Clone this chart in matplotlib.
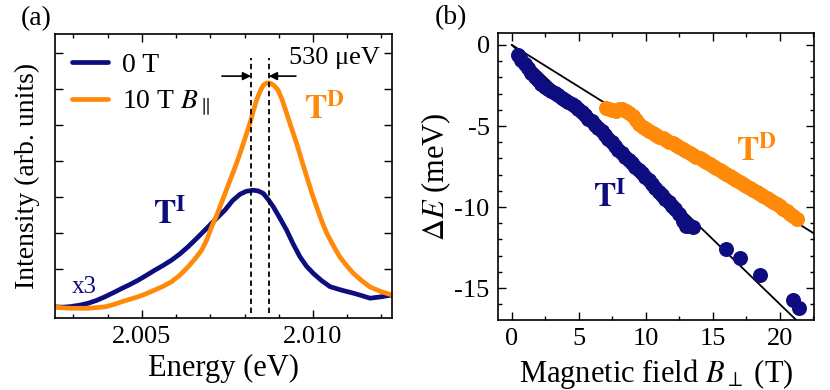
import matplotlib
matplotlib.use("Agg")
import matplotlib.pyplot as plt
from matplotlib.ticker import MultipleLocator, FixedLocator, FormatStrFormatter

plt.rcParams['font.family'] = ['Liberation Serif', 'DejaVu Serif']
plt.rcParams['mathtext.fontset'] = 'stix'
plt.rcParams['axes.unicode_minus'] = False

NAVY = '#0d0d80'
ORANGE = '#ff8a0a'

# ---------------- panel (a) data ----------------
energy_0T = [2.00246, 2.00270, 2.00294, 2.00320, 2.00343, 2.00368, 2.00392, 2.00416,
             2.00441, 2.00465, 2.00489, 2.00514, 2.00538, 2.00562, 2.00587, 2.00611,
             2.00635, 2.00660, 2.00684, 2.00713, 2.00743, 2.00765, 2.00787, 2.00805,
             2.00825, 2.00840, 2.00855, 2.00870, 2.00884, 2.00903, 2.00923, 2.00942,
             2.00962, 2.00981, 2.01001, 2.01025, 2.01050, 2.01085, 2.01118, 2.01143,
             2.01167, 2.01200, 2.01231]
intensity_0T = [-0.05, -0.06, -0.04, 0.00, 0.05, 0.13, 0.23, 0.34,
                0.46, 0.57, 0.69, 0.83, 0.97, 1.10, 1.25, 1.42,
                1.62, 1.85, 2.08, 2.36, 2.64, 2.90, 3.08, 3.16,
                3.19, 3.17, 3.10, 2.92, 2.73, 2.42, 2.08, 1.70,
                1.34, 1.08, 0.88, 0.68, 0.51, 0.41, 0.33, 0.26,
                0.19, 0.23, 0.28]

energy_10T = [2.00246, 2.00270, 2.00294, 2.00320, 2.00343, 2.00368, 2.00392, 2.00416,
              2.00441, 2.00465, 2.00489, 2.00514, 2.00538, 2.00562, 2.00587, 2.00611,
              2.00635, 2.00655, 2.00675, 2.00690, 2.00704, 2.00719, 2.00731, 2.00743,
              2.00755, 2.00766, 2.00777, 2.00787, 2.00801, 2.00816, 2.00826, 2.00835,
              2.00845, 2.00855, 2.00865, 2.00874, 2.00886, 2.00898, 2.00910, 2.00923,
              2.00937, 2.00952, 2.00967, 2.00982, 2.00996, 2.01011, 2.01025, 2.01040,
              2.01060, 2.01079, 2.01098, 2.01117, 2.01142, 2.01167, 2.01200, 2.01231]
intensity_10T = [-0.05, -0.08, -0.09, -0.09, -0.09, -0.07, -0.05, 0.01,
                 0.09, 0.16, 0.23, 0.32, 0.42, 0.52, 0.65, 0.83,
                 1.06, 1.28, 1.53, 1.82, 2.18, 2.50, 2.80, 3.10,
                 3.40, 3.67, 3.95, 4.22, 4.62, 5.06, 5.40, 5.69,
                 5.93, 6.11, 6.17, 6.17, 6.10, 5.97, 5.70, 5.33,
                 4.92, 4.50, 4.02, 3.56, 3.13, 2.72, 2.35, 2.00,
                 1.64, 1.33, 1.10, 0.89, 0.68, 0.50, 0.37, 0.28]

peak_positions = [2.00819, 2.00871]   # eV, 530 ueV apart

# ---------------- panel (b) data ----------------
field_TI = [0.45, 0.7, 0.95, 1.2, 1.45, 1.7, 1.95, 2.2, 2.45, 2.7, 2.95, 3.2, 3.45,
            3.7, 3.95, 4.2, 4.45, 4.7, 4.95, 5.2, 5.45, 5.7, 5.95, 6.2, 6.45, 6.7,
            6.95, 7.2, 7.45, 7.7, 7.95, 8.2, 8.45, 8.7, 8.95, 9.2, 9.45, 9.7, 9.95,
            10.2, 10.45, 10.7, 10.95, 11.2, 11.45, 11.7, 11.95, 12.2, 12.45, 12.75,
            13.0, 13.25, 13.5, 15.97, 17.01, 18.48, 20.95, 21.45]
dE_TI = [-0.62, -0.90, -1.20, -1.45, -1.70, -1.95, -2.18, -2.40, -2.58, -2.70, -2.85,
         -2.98, -3.10, -3.25, -3.38, -3.50, -3.62, -3.78, -3.95, -4.15, -4.35, -4.55,
         -4.72, -4.92, -5.12, -5.32, -5.55, -5.80, -6.00, -6.22, -6.45, -6.68, -6.90,
         -7.10, -7.30, -7.50, -7.70, -7.90, -8.12, -8.35, -8.58, -8.82, -9.05, -9.28,
         -9.48, -9.70, -9.92, -10.15, -10.45, -10.85, -11.15, -11.20, -11.22,
         -12.57, -13.12, -14.20, -15.76, -16.25]

field_TD = [7.0, 7.25, 7.5, 7.75, 8.0, 8.25, 8.5, 8.75, 9.0, 9.25, 9.5, 9.75, 10.0,
            10.25, 10.5, 10.75, 11.0, 11.25, 11.5, 11.75, 12.0, 12.25, 12.5, 12.75,
            13.0, 13.25, 13.5, 13.75, 14.0, 14.25, 14.5, 14.75, 15.0, 15.25, 15.5,
            15.75, 16.0, 16.25, 16.5, 16.75, 17.0, 17.25, 17.5, 17.75, 18.0, 18.25,
            18.5, 18.75, 19.0, 19.25, 19.5, 19.75, 20.0, 20.25, 20.5, 20.75, 21.0, 21.25]
dE_TD = [-3.90, -3.93, -4.00, -4.05, -3.98, -3.98, -4.10, -4.22, -4.38, -4.62, -4.85,
         -5.05, -5.20, -5.32, -5.45, -5.55, -5.66, -5.76, -5.86, -5.96, -6.06, -6.18,
         -6.30, -6.42, -6.55, -6.68, -6.80, -6.90, -7.00, -7.10, -7.20, -7.32, -7.45,
         -7.57, -7.70, -7.82, -7.95, -8.08, -8.22, -8.32, -8.44, -8.56, -8.68, -8.80,
         -8.92, -9.05, -9.18, -9.30, -9.42, -9.55, -9.68, -9.82, -9.96, -10.10, -10.25,
         -10.40, -10.55, -10.75]

fit_slopes = [-0.516, -0.80]     # meV/T, lines through origin
fit_field = [0.0, 23.0]

# ---------------- figure ----------------
fig = plt.figure(figsize=(8.3, 3.9), dpi=100)
axa = fig.add_axes([55/830, 1-318/390, 337/830, 284/390])
axb = fig.add_axes([498/830, 1-320/390, 316/830, 287/390])

for ax in (axa, axb):
    for s in ax.spines.values():
        s.set_linewidth(1.2)
    ax.tick_params(which='both', direction='in', top=True, right=True, width=1.0,
                   labelsize=19, pad=6)
    ax.tick_params(which='major', length=6)
    ax.tick_params(which='minor', length=3)

# panel (a)
axa.plot(energy_0T, intensity_0T, color=NAVY, lw=3.4, label='0 T', solid_capstyle='round')
axa.plot(energy_10T, intensity_10T, color=ORANGE, lw=3.4, label=r'10 T $B_{\parallel}$',
         solid_capstyle='round')
axa.vlines(peak_positions, -0.22, 6.86, colors='black', linestyles=(0, (3, 2)), lw=1.3)
axa.set_xlim(2.00246, 2.01231)
axa.set_ylim(-0.36, 7.53)
axa.xaxis.set_major_locator(FixedLocator([2.005, 2.010]))
axa.xaxis.set_major_formatter(FormatStrFormatter('%.3f'))
axa.xaxis.set_minor_locator(MultipleLocator(0.001))
axa.yaxis.set_major_locator(FixedLocator([1, 2, 3, 4, 5, 6, 7]))
axa.set_yticklabels([])
axa.set_xlabel('Energy (eV)', fontsize=22)
axa.set_ylabel('Intensity (arb. units)', fontsize=20)
axa.xaxis.set_label_coords(0.5, -0.125)
axa.yaxis.set_label_coords(-0.045, 0.5)

leg = axa.legend(loc='upper left', bbox_to_anchor=(0.05, 0.935), frameon=False,
                 fontsize=20, handlelength=1.3, handletextpad=0.5, labelspacing=0.38,
                 borderpad=0, borderaxespad=0)

axa.annotate('', xy=(peak_positions[0], 6.36), xytext=(2.00734, 6.36),
             arrowprops=dict(arrowstyle='-|>', color='black', lw=1.2, mutation_scale=12,
                             shrinkA=0, shrinkB=0))
axa.annotate('', xy=(peak_positions[1], 6.36), xytext=(2.00950, 6.36),
             arrowprops=dict(arrowstyle='-|>', color='black', lw=1.2, mutation_scale=12,
                             shrinkA=0, shrinkB=0))
axa.text(0.693, 0.915, '530 μeV', transform=axa.transAxes, fontsize=19,
         ha='left', va='center')
axa.text(2.01035, 5.42, r'$\mathbf{T}^{\mathbf{D}}$', color=ORANGE, fontsize=24,
         ha='center', va='center')
axa.text(2.00582, 2.5, r'$\mathbf{T}^{\mathbf{I}}$', color=NAVY, fontsize=24,
         ha='center', va='center')
axa.text(2.00333, 0.5, 'x3', color=NAVY, fontsize=18, ha='center', va='center')

# panel (b)
for k in fit_slopes:
    axb.plot(fit_field, [k * b for b in fit_field], color='black', lw=1.3, zorder=1)
axb.plot(field_TI, dE_TI, 'o', color=NAVY, ms=10.8, mec='none', zorder=2)
axb.plot(field_TD, dE_TD, 'o', color=ORANGE, ms=10.8, mec='none', zorder=2)
axb.set_xlim(-1.04, 22.54)
axb.set_ylim(-16.97, 0.74)
axb.xaxis.set_major_locator(MultipleLocator(5))
axb.xaxis.set_minor_locator(MultipleLocator(2.5))
axb.yaxis.set_major_locator(MultipleLocator(5))
axb.yaxis.set_minor_locator(MultipleLocator(1))
axb.set_xlabel(r'Magnetic field $B_{\perp}$ (T)', fontsize=22)
axb.set_ylabel(r'$\Delta E$ (meV)', fontsize=22)
axb.xaxis.set_label_coords(0.5, -0.13)
axb.yaxis.set_label_coords(-0.142, 0.5)
axb.text(18.28, -6.6, r'$\mathbf{T}^{\mathbf{D}}$', color=ORANGE, fontsize=24,
         ha='center', va='center')
axb.text(7.31, -9.44, r'$\mathbf{T}^{\mathbf{I}}$', color=NAVY, fontsize=24,
         ha='center', va='center')

fig.text(36/830, 1-19/390, '(a)', fontsize=20, ha='center', va='center')
fig.text(451/830, 1-18/390, '(b)', fontsize=20, ha='center', va='center')

fig.savefig('out.png', dpi=100)
